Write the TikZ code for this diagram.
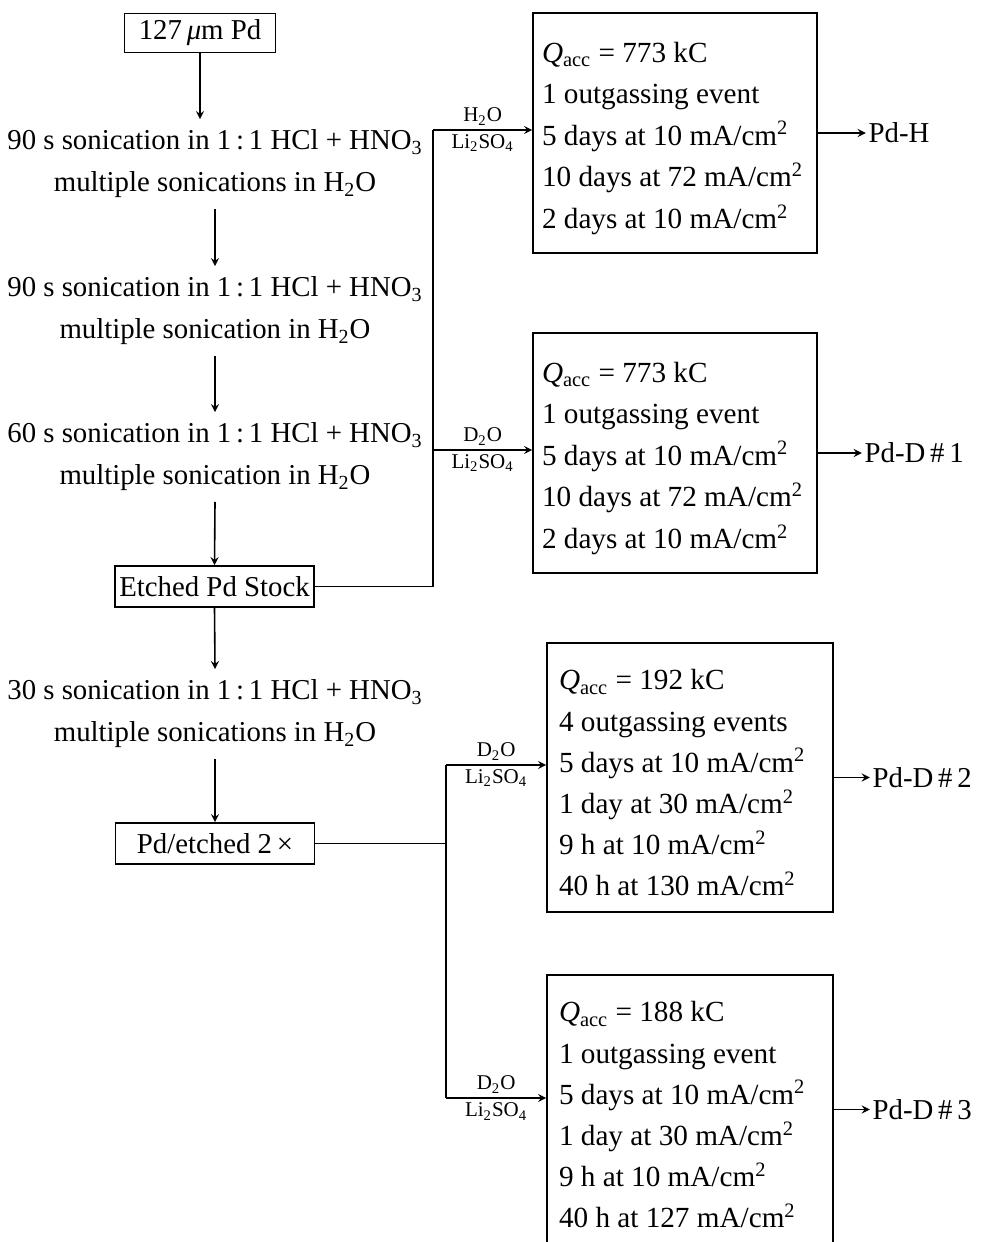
\documentclass[tikz,border=0pt]{standalone}
\usepackage{fontspec}
\setmainfont{Liberation Serif}
\usetikzlibrary{arrows, positioning}

\begin{document}
\begin{tikzpicture}[x=0.5pt, y=-0.5pt, >=stealth, thick,
        font=\fontsize{14.4}{21}\selectfont,
        stage/.style={rectangle, draw, minimum width=99.5pt, minimum height=20.5pt, inner sep=2pt},
        treat/.style={align=center, inner sep=5pt},
        run/.style={rectangle, draw, align=flush left, text width=133pt, minimum height=120pt, inner xsep=4.5pt,
            font=\fontsize{14.6}{20.8}\selectfont, execute at begin node={\rule{0pt}{15.5pt}}},
        longrun/.style={run, text width=131pt, inner xsep=6pt, minimum height=134.5pt, font=\fontsize{14.6}{20.6}\selectfont},
        soln/.style={font=\fontsize{10.5}{12}\selectfont, inner sep=2pt},
        result/.style={inner sep=1pt}]

        \useasboundingbox (0,0) rectangle (983,1242);

        % left column
        \node[stage, minimum width=75.5pt, minimum height=19.5pt] (pd) at (200,33) {127\,{\itshape μ}m Pd};

        \node[treat] (s1) at (215,164) {90 s sonication in 1\,:\,1 HCl + HNO\textsubscript{3}\\multiple sonications in H\textsubscript{2}O};
        \node[treat] (s2) at (215,311) {90 s sonication in 1\,:\,1 HCl + HNO\textsubscript{3}\\multiple sonication in H\textsubscript{2}O};
        \node[treat] (s3) at (215,457) {60 s sonication in 1\,:\,1 HCl + HNO\textsubscript{3}\\multiple sonication in H\textsubscript{2}O};

        \node[stage] (etch) at (214.5,586.5) {Etched Pd Stock};

        \node[treat] (s4) at (215,714) {30 s sonication in 1\,:\,1 HCl + HNO\textsubscript{3}\\multiple sonications in H\textsubscript{2}O};

        \node[stage] (etch2) at (215,843.5) {Pd/etched 2\,×};

        \draw[->] (pd.south) -- (pd.south |- s1.north);
        \draw[->] (s1.south) -- (s2.north);
        \draw[->] (s2.south) -- (s3.north);
        \draw[->] (s3.south) -- (etch.north);
        \draw[->] (etch.south) -- (s4.north);
        \draw[->] (s4.south) -- (etch2.north);

        % electrolysis runs
        \node[run] (h) at (675,133) {{\itshape Q}\textsubscript{acc} = 773 kC\\1 outgassing event\\5 days at 10 mA/cm\textsuperscript{2}\\10 days at 72 mA/cm\textsuperscript{2}\\2 days at 10 mA/cm\textsuperscript{2}};
        \node[run] (d1) at (675,453) {{\itshape Q}\textsubscript{acc} = 773 kC\\1 outgassing event\\5 days at 10 mA/cm\textsuperscript{2}\\10 days at 72 mA/cm\textsuperscript{2}\\2 days at 10 mA/cm\textsuperscript{2}};
        \node[longrun] (d2) at (690,777.5) {{\itshape Q}\textsubscript{acc} = 192 kC\\4 outgassing events\\5 days at 10 mA/cm\textsuperscript{2}\\1 day at 30 mA/cm\textsuperscript{2}\\9 h at 10 mA/cm\textsuperscript{2}\\40 h at 130 mA/cm\textsuperscript{2}};
        \node[longrun] (d3) at (690,1109.5) {{\itshape Q}\textsubscript{acc} = 188 kC\\1 outgassing event\\5 days at 10 mA/cm\textsuperscript{2}\\1 day at 30 mA/cm\textsuperscript{2}\\9 h at 10 mA/cm\textsuperscript{2}\\40 h at 127 mA/cm\textsuperscript{2}};

        \node[result, right=24pt of h] (pdh) {Pd-H};
        \node[result, right=22pt of d1] (pdd1) {Pd-D\,\#\,1};
        \node[result, right=18pt of d2] (pdd2) {Pd-D\,\#\,2};
        \node[result, right=18pt of d3] (pdd3) {Pd-D\,\#\,3};

        \draw[->] (h) -- (pdh);
        \draw[->] (d1) -- (pdd1);
        \draw[->] (d2) -- (pdd2);
        \draw[->] (d3) -- (pdd3);

        % branches
        \coordinate (j1) at (433,130);
        \coordinate (j2) at (433,450);
        \coordinate (k1) at (446,765);
        \coordinate (k2) at (446,1098);

        \draw (etch.east) -| (j1);
        \draw[->] (j1) -- node[soln, above] {H\textsubscript{2}O} node[soln, below] {Li\textsubscript{2}SO\textsubscript{4}} (j1 -| h.west);
        \draw[->] (j2) -- node[soln, above] {D\textsubscript{2}O} node[soln, below] {Li\textsubscript{2}SO\textsubscript{4}} (j2 -| d1.west);

        \draw (etch2.east) -- (etch2.east -| k1);
        \draw (k1) -- (k2);
        \draw[->] (k1) -- node[soln, above] {D\textsubscript{2}O} node[soln, below] {Li\textsubscript{2}SO\textsubscript{4}} (k1 -| d2.west);
        \draw[->] (k2) -- node[soln, above] {D\textsubscript{2}O} node[soln, below] {Li\textsubscript{2}SO\textsubscript{4}} (k2 -| d3.west);

    \end{tikzpicture}
\end{document}
